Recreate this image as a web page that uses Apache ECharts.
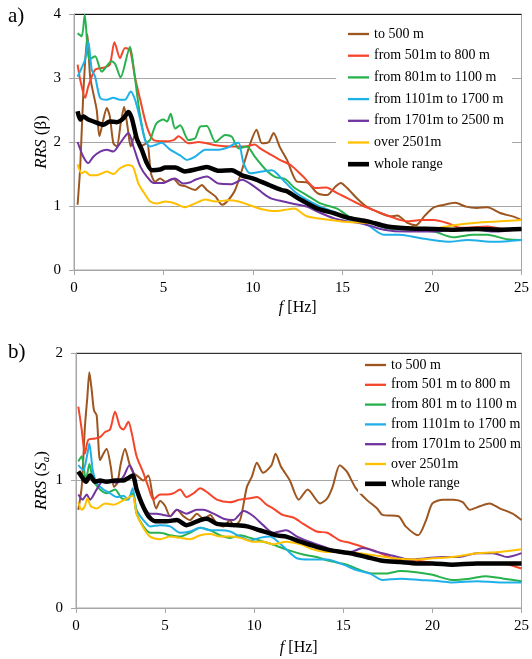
<!DOCTYPE html>
<html>
<head>
<meta charset="utf-8">
<script src="https://cdn.jsdelivr.net/npm/echarts@6/dist/echarts.min.js"></script>
<style>
  html, body { margin: 0; padding: 0; background: #fff; }
  #chart { width: 532px; height: 659px; }
</style>
</head>
<body>
<div id="chart"></div>
<script>
// legend names, a) top panel and b) bottom panel
var namesA = ['to 500 m', 'from 501m to 800 m', 'from 801m to 1100 m', 'from 1101m to 1700 m',
              'from 1701m to 2500 m', 'over 2501m', 'whole range'];
var namesB = ['to 500 m', 'from 501 m to 800 m', 'from 801 m to 1100 m', 'from 1101m to 1700 m',
              'from 1701m to 2500 m', 'over 2501m', 'whole range'];
var colors = ['#9e5620', '#f5452a', '#27b24e', '#20b0e8', '#7035a0', '#ffc000', '#000000'];

// a) RRS(beta) — [f Hz, value]
var a_to500 = [[0.2,1.02],[0.35,1.62],[0.52,2.76],[0.75,3.68],[0.9,3.02],[1.08,2.76],[1.27,2.5],[1.42,2.09],[1.64,2.35],[1.83,2.53],[2.0,2.4],[2.2,1.98],[2.39,1.93],[2.61,2.29],[2.8,2.55],[2.99,2.24],[3.17,1.93],[3.41,2.11],[3.7,1.93],[4.07,1.98],[4.3,1.51],[4.53,1.38],[4.81,1.43],[5.1,1.38],[5.56,1.42],[5.9,1.33],[6.2,1.31],[6.77,1.25],[7.14,1.33],[7.42,1.25],[7.9,1.15],[8.27,1.02],[8.55,1.07],[9.0,1.25],[9.47,1.64],[9.85,1.98],[10.2,2.19],[10.5,1.98],[10.88,2.0],[11.15,2.14],[11.5,1.92],[11.9,1.72],[12.46,1.38],[13.0,1.37],[13.6,1.2],[14.14,1.17],[14.6,1.3],[14.9,1.36],[15.26,1.28],[15.8,1.12],[16.3,1.0],[17.1,0.89],[17.7,0.84],[18.06,0.85],[18.6,0.74],[19.1,0.7],[19.6,0.85],[20.1,0.98],[20.7,1.02],[21.3,1.05],[21.9,0.99],[22.5,0.97],[23.1,0.98],[23.8,0.89],[24.6,0.83],[25,0.78]];
var a_501 = [[0.2,3.21],[0.35,2.97],[0.62,2.69],[0.8,2.87],[1.18,3.13],[1.64,3.16],[2.0,3.21],[2.26,3.56],[2.57,3.31],[2.85,3.47],[3.13,3.44],[3.4,3.02],[3.7,2.66],[4.07,2.24],[4.44,2.03],[5.0,2.01],[5.56,2.03],[5.84,2.09],[6.4,1.98],[6.96,2.0],[7.9,1.95],[8.82,1.93],[9.57,1.93],[10.1,1.96],[10.4,1.9],[10.88,1.82],[11.5,1.72],[12.1,1.64],[12.8,1.46],[13.5,1.28],[14.1,1.29],[14.7,1.2],[15.3,1.12],[16.0,1.02],[16.7,0.94],[17.7,0.83],[18.6,0.76],[19.4,0.78],[20.1,0.78],[20.9,0.73],[21.6,0.66],[23.1,0.68],[24.2,0.63],[25,0.63]];
var a_801 = [[0.2,3.7],[0.43,3.65],[0.6,3.99],[0.86,3.29],[1.18,3.34],[1.55,3.1],[2.1,3.26],[2.3,3.22],[2.6,3.01],[3.13,3.49],[3.3,3.23],[3.7,2.4],[4.07,2.0],[4.25,2.03],[4.6,2.29],[5.0,2.35],[5.2,2.32],[5.4,2.44],[5.65,2.21],[5.93,2.26],[6.4,2.03],[6.77,2.06],[7.05,2.24],[7.42,2.25],[7.9,2.0],[8.45,2.11],[8.82,2.08],[9.2,1.9],[9.66,1.93],[10.1,1.77],[10.7,1.57],[11.25,1.45],[11.8,1.42],[12.3,1.29],[13.0,1.17],[13.77,1.04],[14.7,0.96],[15.4,0.83],[16.4,0.76],[17.5,0.65],[18.8,0.63],[20.1,0.6],[21.2,0.51],[22.3,0.55],[23.1,0.55],[24.2,0.48],[25,0.47]];
var a_1101 = [[0.2,3.02],[0.43,3.16],[0.62,3.29],[0.8,3.57],[0.99,3.13],[1.18,3.02],[1.46,2.69],[1.83,2.66],[2.2,2.69],[2.57,2.66],[2.85,2.66],[3.17,2.79],[3.41,2.66],[3.7,2.35],[3.97,2.03],[4.25,1.93],[4.6,1.96],[4.9,1.99],[5.37,1.88],[5.93,1.79],[6.3,1.72],[6.77,1.77],[7.33,1.88],[8.08,1.88],[8.64,1.92],[9.0,1.98],[9.2,1.99],[9.47,1.67],[9.85,1.51],[10.5,1.54],[11.06,1.56],[11.6,1.43],[12.3,1.23],[13.0,1.1],[13.77,0.99],[14.7,0.89],[15.4,0.78],[16.4,0.7],[17.3,0.55],[18.2,0.55],[19.3,0.5],[20.9,0.44],[22.0,0.47],[23.5,0.44],[25,0.47]];
var a_1701 = [[0.2,2.0],[0.52,1.77],[0.8,1.67],[1.08,1.77],[1.46,1.85],[1.83,1.88],[2.2,1.85],[2.57,1.98],[3.04,2.14],[3.32,1.93],[3.7,1.62],[4.07,1.46],[4.44,1.36],[5.0,1.36],[5.37,1.41],[5.65,1.43],[6.1,1.35],[6.5,1.37],[6.77,1.41],[7.42,1.46],[8.08,1.35],[8.82,1.34],[9.38,1.41],[10.1,1.3],[10.6,1.19],[11.0,1.12],[11.7,1.07],[12.3,1.03],[13.0,0.99],[13.77,0.89],[14.5,0.81],[15.3,0.76],[16.2,0.72],[17.3,0.63],[18.6,0.6],[20.1,0.6],[21.2,0.63],[22.5,0.63],[23.5,0.6],[25,0.64]];
var a_2501 = [[0.2,1.65],[0.43,1.51],[0.62,1.54],[0.9,1.48],[1.27,1.48],[1.83,1.54],[2.2,1.5],[2.57,1.59],[3.04,1.64],[3.3,1.61],[3.6,1.35],[3.88,1.22],[4.25,1.07],[4.63,1.04],[5.1,1.07],[5.65,1.04],[6.2,0.98],[6.77,1.04],[7.33,1.1],[7.9,1.07],[8.64,1.09],[9.2,1.07],[9.94,1.0],[10.5,0.95],[11.2,0.92],[11.8,0.94],[12.3,0.96],[13.0,0.84],[14.1,0.79],[15.3,0.75],[16.6,0.73],[17.7,0.68],[18.8,0.67],[20.1,0.65],[21.2,0.7],[22.5,0.74],[23.8,0.76],[25,0.78]];
var a_whole = [[0.2,2.48],[0.35,2.35],[0.52,2.4],[0.8,2.35],[1.18,2.31],[1.64,2.27],[2.0,2.32],[2.39,2.31],[2.76,2.37],[3.04,2.47],[3.23,2.37],[3.5,2.06],[3.8,1.87],[4.07,1.67],[4.35,1.56],[4.81,1.57],[5.1,1.6],[5.65,1.6],[6.2,1.54],[6.77,1.57],[7.42,1.61],[8.08,1.55],[8.82,1.56],[9.38,1.48],[10.1,1.42],[10.88,1.33],[11.6,1.25],[11.9,1.23],[12.65,1.1],[13.6,0.96],[14.5,0.89],[15.4,0.81],[16.4,0.76],[17.5,0.68],[18.8,0.65],[20.1,0.64],[21.2,0.63],[22.5,0.64],[23.8,0.63],[25,0.64]];

// b) RRS(Sa) — [f Hz, value]
var b_to500 = [[0.13,0.77],[0.32,0.95],[0.5,1.42],[0.64,1.66],[0.75,1.85],[0.88,1.71],[1.01,1.55],[1.16,1.51],[1.35,1.16],[1.54,1.21],[1.72,1.25],[1.95,1.11],[2.13,0.95],[2.32,0.98],[2.51,1.13],[2.75,1.25],[3.0,1.13],[3.22,1.06],[3.5,1.03],[3.78,1.0],[4.06,1.04],[4.31,0.87],[4.5,0.78],[4.72,0.84],[5.0,0.8],[5.28,0.72],[5.66,0.77],[6.03,0.72],[6.4,0.69],[6.78,0.74],[7.15,0.7],[7.53,0.73],[7.9,0.66],[8.28,0.64],[8.65,0.69],[8.84,0.64],[9.21,0.69],[9.59,0.95],[9.87,1.03],[10.15,1.14],[10.5,1.06],[10.97,1.12],[11.2,1.21],[11.5,1.11],[12.0,1.0],[12.5,0.85],[13.0,0.93],[13.7,0.82],[14.1,0.86],[14.4,0.95],[14.8,1.12],[15.2,1.07],[15.7,0.94],[16.3,0.85],[16.9,0.78],[17.2,0.73],[18.1,0.72],[18.5,0.64],[19.2,0.57],[19.65,0.69],[20.0,0.82],[20.6,0.85],[21.2,0.85],[21.7,0.83],[22.1,0.77],[22.7,0.8],[23.2,0.82],[23.8,0.78],[24.5,0.74],[25,0.69]];
var b_501 = [[0.13,1.58],[0.32,1.4],[0.5,1.21],[0.69,1.32],[1.07,1.33],[1.35,1.34],[1.63,1.38],[1.91,1.4],[2.19,1.54],[2.47,1.42],[2.66,1.4],[2.94,1.46],[3.13,1.37],[3.4,1.19],[3.78,1.06],[4.06,0.95],[4.34,0.85],[4.72,0.89],[5.09,0.89],[5.47,0.9],[5.84,0.93],[6.2,0.87],[6.6,0.9],[6.97,0.94],[7.34,0.91],[7.9,0.85],[8.65,0.83],[9.2,0.85],[9.78,0.86],[10.15,0.87],[10.7,0.81],[11.07,0.78],[11.6,0.73],[12.2,0.71],[12.75,0.66],[13.5,0.6],[14.1,0.59],[14.8,0.53],[15.4,0.51],[16.3,0.47],[16.9,0.44],[17.8,0.39],[18.7,0.38],[19.7,0.36],[20.6,0.34],[21.5,0.34],[22.5,0.35],[23.4,0.35],[24.3,0.34],[25,0.31]];
var b_801 = [[0.13,1.15],[0.32,1.19],[0.56,1.0],[0.75,1.13],[0.97,1.0],[1.35,0.93],[1.72,0.9],[2.19,0.93],[2.56,0.86],[2.85,0.85],[3.18,0.9],[3.4,0.74],[3.78,0.64],[4.16,0.59],[4.72,0.59],[5.28,0.57],[5.84,0.56],[6.4,0.59],[6.97,0.63],[7.53,0.61],[8.1,0.57],[8.65,0.55],[9.21,0.57],[9.78,0.55],[10.3,0.53],[11.0,0.5],[12.0,0.45],[12.75,0.42],[13.5,0.4],[14.2,0.37],[15.2,0.34],[15.9,0.3],[16.7,0.27],[17.4,0.27],[18.2,0.29],[19.1,0.28],[20.0,0.26],[21.1,0.22],[22.1,0.23],[23.0,0.25],[24.0,0.23],[25,0.21]];
var b_1101 = [[0.13,1.12],[0.41,1.08],[0.64,1.21],[0.75,1.29],[0.94,1.08],[1.16,0.98],[1.54,0.93],[1.91,0.9],[2.28,0.87],[2.66,0.88],[2.94,0.85],[3.18,0.94],[3.4,0.77],[3.78,0.69],[4.16,0.64],[4.72,0.65],[5.28,0.64],[5.84,0.59],[6.4,0.6],[6.97,0.63],[7.53,0.61],[8.1,0.61],[8.65,0.6],[9.21,0.56],[9.78,0.53],[10.3,0.55],[10.9,0.56],[11.25,0.53],[11.8,0.46],[12.4,0.39],[13.1,0.38],[14.1,0.38],[15.0,0.34],[15.7,0.3],[16.5,0.27],[17.2,0.22],[18.2,0.23],[19.3,0.22],[20.4,0.21],[21.1,0.2],[22.5,0.21],[23.8,0.2],[25,0.2]];
var b_1701 = [[0.13,0.89],[0.37,0.85],[0.6,0.89],[0.79,0.85],[1.16,0.93],[1.54,1.0],[1.91,1.0],[2.28,0.98],[2.66,1.03],[3.0,1.12],[3.22,1.06],[3.4,0.93],[3.78,0.8],[4.16,0.74],[4.53,0.74],[4.9,0.73],[5.28,0.72],[5.66,0.77],[6.2,0.74],[6.78,0.77],[7.15,0.77],[7.72,0.74],[8.28,0.7],[8.84,0.69],[9.4,0.76],[9.96,0.72],[10.5,0.65],[11.07,0.59],[11.8,0.61],[12.4,0.56],[13.1,0.52],[13.9,0.48],[14.8,0.44],[15.4,0.44],[16.1,0.47],[16.9,0.44],[17.8,0.41],[18.7,0.38],[19.65,0.39],[20.6,0.4],[21.5,0.4],[22.5,0.43],[23.4,0.43],[24.2,0.4],[25,0.43]];
var b_2501 = [[0.13,0.83],[0.32,0.77],[0.5,0.8],[0.64,0.86],[0.82,0.8],[1.16,0.78],[1.63,0.82],[2.1,0.81],[2.47,0.83],[2.85,0.86],[3.18,0.88],[3.4,0.74],[3.78,0.63],[4.16,0.56],[4.72,0.54],[5.28,0.56],[5.84,0.55],[6.4,0.54],[6.97,0.57],[7.53,0.58],[8.1,0.56],[8.65,0.56],[9.21,0.55],[9.96,0.52],[10.5,0.52],[11.07,0.5],[11.8,0.52],[12.6,0.5],[13.3,0.46],[14.1,0.44],[15.0,0.44],[15.9,0.43],[16.9,0.41],[17.8,0.39],[19.1,0.38],[20.0,0.39],[21.1,0.4],[22.5,0.43],[23.8,0.44],[25,0.46]];
var b_whole = [[0.13,1.07],[0.37,1.02],[0.56,0.99],[0.79,1.04],[1.07,0.99],[1.35,1.0],[1.72,0.99],[2.19,1.0],[2.66,1.0],[2.94,1.02],[3.18,1.04],[3.4,0.93],[3.69,0.82],[4.06,0.72],[4.44,0.68],[5.09,0.68],[5.66,0.69],[6.2,0.65],[6.97,0.69],[7.34,0.7],[7.9,0.66],[8.84,0.65],[9.59,0.64],[10.3,0.61],[11.25,0.57],[11.8,0.56],[12.6,0.52],[13.5,0.48],[14.4,0.45],[15.4,0.43],[16.3,0.4],[17.2,0.37],[18.2,0.36],[19.1,0.35],[20.0,0.35],[21.1,0.34],[22.5,0.35],[23.8,0.35],[25,0.35]];

var seriesA = [a_to500, a_501, a_801, a_1101, a_1701, a_2501, a_whole];
var seriesB = [b_to500, b_501, b_801, b_1101, b_1701, b_2501, b_whole];

var serif = 'Liberation Serif';
var grey = '#a6a6a6';
// plain bar icons for the legend, thin for colours, thick for whole range
var thinIcon = 'path://M0,0H20V2.2H0Z';
var thickIcon = 'path://M0,0H20V4.4H0Z';

function makeSeries(names, datas, idx) {
    var out = [];
    for (var i = 0; i < datas.length; i++) {
        var last = i == datas.length - 1;
        out.push({
            name: names[i], type: 'line', xAxisIndex: idx, yAxisIndex: idx,
            data: datas[i], symbol: 'none', smooth: 0.25,
            lineStyle: {color: colors[i], width: last ? 4.5 : 2},
            itemStyle: {color: colors[i]},
            z: last ? 3 : 2
        });
    }
    return out;
}

function legendData(names) {
    return names.map(function (n, i) {
        return {name: n, icon: i == names.length - 1 ? thickIcon : thinIcon};
    });
}

function xAxisOf(idx, nameGap) {
    return {
        type: 'value', gridIndex: idx, min: 0, max: 25, interval: 5,
        axisLine: {show: true, lineStyle: {color: grey}},
        axisTick: {show: true, length: 5, lineStyle: {color: grey}},
        splitLine: {show: false},
        axisLabel: {fontFamily: serif, fontSize: 15, color: '#000', margin: 11},
        name: '{i|f} [Hz]', nameLocation: 'middle', nameGap: nameGap, nameMoveOverlap: false,
        nameTextStyle: {fontFamily: serif, fontSize: 16, color: '#000',
            rich: {i: {fontFamily: serif, fontSize: 16, fontStyle: 'italic', color: '#000'}}}
    };
}

var chart = echarts.init(document.getElementById('chart'), null, {renderer: 'canvas'});

var option = {
    animation: false,
    backgroundColor: '#fff',
    title: [
        {text: 'a)', left: 8, top: 6, padding: 0, textStyle: {fontFamily: serif, fontSize: 21, fontWeight: 'normal', color: '#000'}},
        {text: 'b)', left: 8, top: 342, padding: 0, textStyle: {fontFamily: serif, fontSize: 21, fontWeight: 'normal', color: '#000'}}
    ],
    grid: [
        {left: 74, top: 14, width: 448, height: 256, show: true, borderColor: grey, borderWidth: 1},
        {left: 76, top: 353, width: 447, height: 255, show: true, borderColor: grey, borderWidth: 1}
    ],
    legend: [
        {data: legendData(namesA), orient: 'vertical', left: 336, top: 22, padding: [4, 8, 4, 12],
         backgroundColor: '#fff', itemWidth: 21, itemHeight: 6, itemGap: 5.7,
         textStyle: {fontFamily: serif, fontSize: 14, color: '#000', lineHeight: 16}},
        {data: legendData(namesB), orient: 'vertical', left: 358, top: 355, padding: [2, 0, 2, 7],
         backgroundColor: '#fff', itemWidth: 21, itemHeight: 6, itemGap: 3.8,
         textStyle: {fontFamily: serif, fontSize: 14, color: '#000', lineHeight: 16}}
    ],
    xAxis: [xAxisOf(0, 30), xAxisOf(1, 32)],
    yAxis: [
        {type: 'value', gridIndex: 0, min: 0, max: 4, interval: 1,
         axisLine: {show: true, lineStyle: {color: grey}},
         axisTick: {show: true, length: 5, lineStyle: {color: grey}},
         splitLine: {show: true, lineStyle: {color: [grey, grey, grey, grey, '#111']}},
         axisLabel: {fontFamily: serif, fontSize: 15, color: '#000', margin: 13},
         name: '{i|RRS} (β)', nameLocation: 'middle', nameRotate: 90, nameGap: 24, nameMoveOverlap: false,
         nameTextStyle: {fontFamily: serif, fontSize: 17, color: '#000',
            rich: {i: {fontFamily: serif, fontSize: 17, fontStyle: 'italic', color: '#000'}}}},
        {type: 'value', gridIndex: 1, min: 0, max: 2, interval: 1,
         axisLine: {show: true, lineStyle: {color: grey}},
         axisTick: {show: true, length: 5, lineStyle: {color: grey}},
         splitLine: {show: true, lineStyle: {color: [grey, grey, '#333']}},
         axisLabel: {fontFamily: serif, fontSize: 15, color: '#000', margin: 13},
         name: '{i|RRS} ({i|S}{sub|a})', nameLocation: 'middle', nameRotate: 90, nameGap: 24, nameMoveOverlap: false,
         nameTextStyle: {fontFamily: serif, fontSize: 17, color: '#000',
            rich: {
                i: {fontFamily: serif, fontSize: 17, fontStyle: 'italic', color: '#000'},
                sub: {fontFamily: serif, fontSize: 11, fontStyle: 'italic', color: '#000', verticalAlign: 'bottom', lineHeight: 20}
            }}}
    ],
    series: makeSeries(namesA, seriesA, 0).concat(makeSeries(namesB, seriesB, 1))
};

chart.setOption(option);
</script>
</body>
</html>
